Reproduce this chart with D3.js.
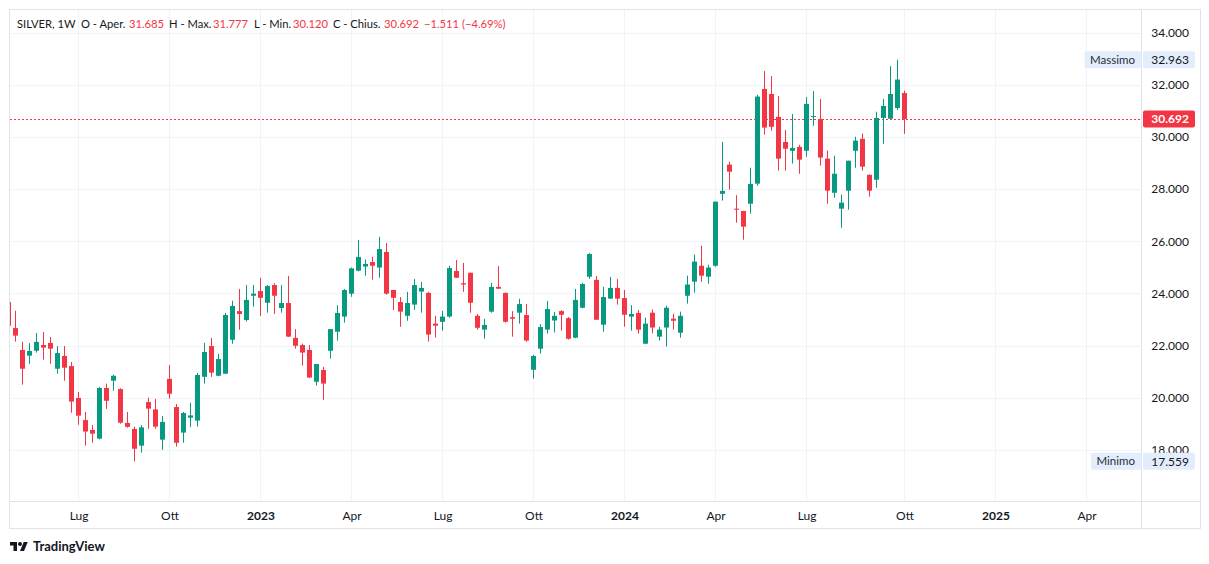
<!DOCTYPE html>
<html><head><meta charset="utf-8">
<script src="https://cdn.jsdelivr.net/npm/d3@7"></script>
<style>html,body{margin:0;padding:0;background:#fff;} svg{display:block;font-family:Lato,"Liberation Sans",sans-serif;}</style>
</head><body>
<svg id="c" width="1209" height="564"></svg>
<script>
// ---- data (weekly SILVER candles, first bar week of 2022-04-25) ----
const firstWeek = "2022-04-25";
const opens = [23.67,22.67,21.83,21.61,21.80,22.02,22.10,21.11,21.60,21.21,19.99,19.14,18.76,18.43,20.37,20.65,20.33,19.03,18.80,18.16,
19.83,19.55,18.39,20.72,19.64,18.66,19.23,19.12,20.80,21.98,20.84,20.92,22.22,23.32,22.98,23.91,24.09,23.64,24.32,23.44,
23.63,22.29,22.02,21.83,20.61,21.06,21.80,22.53,23.11,23.99,24.87,25.03,25.20,24.99,25.59,24.13,23.67,23.14,23.57,24.07,
24.02,22.84,22.91,23.11,24.86,24.39,24.79,23.14,22.61,23.30,24.25,24.02,23.09,23.26,23.17,21.07,21.88,22.61,22.96,23.32,
23.05,22.30,23.45,24.64,24.52,22.80,23.80,24.21,23.82,23.11,23.25,22.07,23.26,22.34,22.69,23.03,22.49,23.91,24.45,25.06,
24.64,25.06,27.82,28.94,27.25,27.16,27.44,28.21,31.84,31.65,30.77,29.81,29.47,29.62,29.47,30.77,30.69,29.17,27.86,27.25,
27.94,29.47,29.93,28.55,28.36,30.73,30.70,31.11,31.685];
const highs = [23.90,23.33,22.14,22.09,22.48,22.52,22.33,21.98,21.98,21.37,20.22,19.45,18.95,20.41,20.54,20.88,20.36,19.45,18.89,18.95,
20.00,19.95,19.30,21.25,19.76,19.45,19.80,20.95,22.10,22.29,21.68,23.25,23.72,24.17,24.32,24.32,24.59,24.32,24.39,24.32,
24.67,22.63,22.07,22.02,21.29,21.18,22.63,23.55,24.17,24.99,26.05,25.30,25.40,26.17,25.93,24.14,23.86,24.06,24.55,24.44,
24.06,23.14,23.33,25.06,25.28,25.17,24.80,23.21,23.02,24.40,25.05,24.03,23.32,23.79,23.59,21.64,22.82,23.71,23.29,23.36,
23.09,24.17,24.40,25.55,24.67,24.25,24.63,24.55,24.13,23.55,23.36,23.07,23.38,22.72,23.53,23.22,23.30,24.68,25.49,25.83,
25.10,27.52,29.81,29.05,27.77,27.17,28.82,31.62,32.53,32.34,31.57,30.27,30.88,29.70,31.53,31.76,31.46,29.48,29.28,27.79,
29.09,30.01,30.13,28.56,30.97,31.46,32.72,32.963,31.777];
const lows = [22.60,22.15,20.50,21.30,21.73,21.46,21.30,20.92,20.65,19.42,18.96,18.16,18.27,18.40,19.57,20.27,19.00,18.85,17.559,17.89,
18.81,18.81,18.00,19.96,18.12,18.27,18.87,18.89,20.54,20.80,20.82,20.90,22.07,22.61,22.92,23.49,23.14,23.26,23.21,23.26,
22.33,21.88,21.23,20.76,20.46,19.92,21.50,22.19,22.88,23.87,24.85,24.68,24.53,24.60,23.95,23.36,22.72,22.95,23.37,23.26,
22.15,22.30,22.57,23.07,24.59,24.06,23.26,22.61,22.26,23.26,24.17,22.88,22.34,22.84,22.15,20.73,21.69,22.46,22.50,22.57,
22.23,22.28,23.43,24.56,22.98,22.53,23.79,23.57,22.72,22.57,22.46,22.05,22.46,22.19,21.96,22.61,22.30,23.61,24.03,24.45,
24.37,25.02,27.56,27.98,26.71,26.06,27.06,28.13,30.09,30.24,28.71,28.71,28.98,28.59,29.24,30.43,28.90,27.44,27.67,26.52,
27.21,28.82,28.71,27.71,28.05,29.74,30.69,31.03,30.120];
const closes = [22.76,22.38,21.11,21.79,22.14,21.92,21.88,21.71,21.15,19.85,19.31,18.70,18.62,20.37,19.88,20.84,19.04,18.88,18.04,18.86,
19.58,18.89,19.07,20.15,18.27,19.41,19.32,20.87,21.75,20.96,21.48,23.17,23.52,23.21,23.75,23.99,23.83,24.28,23.91,23.63,
22.34,21.99,21.73,20.77,21.29,20.54,22.63,23.25,24.13,24.96,25.40,25.13,25.06,25.70,23.99,23.83,23.30,23.63,24.32,24.21,
22.42,22.76,23.11,24.97,24.60,24.34,23.64,22.68,22.79,24.25,24.18,22.91,23.03,23.59,22.19,21.60,22.71,23.40,23.14,23.18,
22.26,23.75,24.36,25.51,22.99,23.86,24.21,23.80,23.18,23.21,22.61,22.84,22.69,22.61,23.45,22.95,23.14,24.34,25.22,24.68,
24.99,27.52,27.93,28.67,27.21,26.56,28.20,31.55,30.36,30.39,29.17,29.55,29.58,29.13,31.27,30.80,29.21,27.94,28.59,27.48,
29.09,29.86,28.86,27.94,30.73,31.19,31.65,32.203,30.692];
const priceTicks = [18,20,22,24,26,28,30,32,34];
const timeTickDates = ["2022-07-04","2022-10-03","2023-01-02","2023-04-03","2023-07-03","2023-10-02","2024-01-01","2024-04-01","2024-07-01","2024-10-07","2025-01-06","2025-04-07"];
const timeTickLabels = ["Lug","Ott","2023","Apr","Lug","Ott","2024","Apr","Lug","Ott","2025","Apr"];
const lastPrice = 30.692, maxPrice = 32.963, minPrice = 17.559;
const headerLabels = ["SILVER, 1W","O - Aper.","H - Max.","L - Min.","C - Chius."];
const headerValues = ["31.685","31.777","30.120","30.692","\u22121.511 (\u22124.69%)"];

// ---- layout ----
const L = 10, R = 1141, T = 10, B = 501;
const RED = "#f23645", GREEN = "#089981", TXT = "#131722", GRID = "#f0f3fa", BORDER = "#e0e3eb";
const DAY = 864e5;
const parse = d3.utcParse("%Y-%m-%d");
const start = parse(firstWeek);
const candles = opens.map((o, i) => ({date: d3.utcDay.offset(start, 7 * i), o, h: highs[i], l: lows[i], c: closes[i]}));

const x = d3.scaleUtc()
  .domain([new Date(start.getTime() - 8.3 * DAY), new Date(start.getTime() + (R - 8.3) * DAY)])
  .range([0, R]);
const y = d3.scaleLinear().domain([16.036, 34.871]).range([B, T]);

const svg = d3.select("#c");
svg.append("rect").attr("x", 9.5).attr("y", 9.5).attr("width", 1191).attr("height", 519)
  .attr("fill", "#fff").attr("stroke", BORDER);

const tickDates = timeTickDates.map(parse);
// grid
const grid = svg.append("g");
grid.selectAll("line.v").data(tickDates).join("line")
  .attr("x1", d => Math.floor(x(d)) + 0.5).attr("x2", d => Math.floor(x(d)) + 0.5)
  .attr("y1", T).attr("y2", B).attr("stroke", GRID);
grid.selectAll("line.h").data(priceTicks).join("line")
  .attr("x1", L).attr("x2", R)
  .attr("y1", d => Math.round(y(d)) + 0.5).attr("y2", d => Math.round(y(d)) + 0.5).attr("stroke", GRID);

svg.append("clipPath").attr("id", "plot").append("rect").attr("x", L).attr("y", T).attr("width", R - L).attr("height", B - T);
const plot = svg.append("g").attr("clip-path", "url(#plot)");

// last price dotted line
plot.append("line").attr("x1", L).attr("x2", R)
  .attr("y1", Math.round(y(lastPrice)) + 0.5).attr("y2", Math.round(y(lastPrice)) + 0.5)
  .attr("stroke", RED).attr("stroke-width", 1).attr("stroke-dasharray", "2,2");

const cg = plot.selectAll("g.c").data(candles).join("g");
cg.append("rect")
  .attr("x", d => Math.floor(x(d.date)))
  .attr("y", d => y(d.h)).attr("width", 1)
  .attr("height", d => Math.max(1, y(d.l) - y(d.h)))
  .attr("fill", d => d.c >= d.o ? GREEN : RED);
cg.append("rect")
  .attr("x", d => Math.floor(x(d.date)) - 2)
  .attr("y", d => y(Math.max(d.o, d.c))).attr("width", 5)
  .attr("height", d => Math.max(1, Math.abs(y(d.o) - y(d.c))))
  .attr("fill", d => d.c >= d.o ? GREEN : RED);

// axis separators
svg.append("line").attr("x1", R + 0.5).attr("x2", R + 0.5).attr("y1", T).attr("y2", 528).attr("stroke", BORDER);
svg.append("line").attr("x1", L).attr("x2", 1200).attr("y1", B + 0.5).attr("y2", B + 0.5).attr("stroke", BORDER);

// price axis
const ya = svg.append("g").attr("transform", `translate(${R},0)`)
  .call(d3.axisRight(y).tickValues(priceTicks).tickFormat(d3.format(".3f")).tickSize(0).tickPadding(0));
ya.select(".domain").remove();
ya.selectAll("text").attr("x", 48).attr("text-anchor", "end").attr("font-size", 12)
  .attr("font-family", "Lato, sans-serif").attr("fill", TXT);

// time axis
const xa = svg.append("g").attr("transform", `translate(0,${B})`)
  .call(d3.axisBottom(x).tickValues(tickDates).tickFormat((d, i) => timeTickLabels[i]).tickSize(0).tickPadding(10));
xa.select(".domain").remove();
xa.selectAll(".tick").attr("transform", d => `translate(${Math.floor(x(d)) + 1},0)`);
xa.selectAll("text").attr("font-size", 12).attr("font-family", "Lato, sans-serif").attr("fill", TXT)
  .attr("font-weight", (d, i) => /^\d{4}$/.test(timeTickLabels[i]) ? "bold" : "normal");

// price labels
function priceBox(val, fill, color, bold) {
  const cy = y(val);
  svg.append("rect").attr("x", 1143).attr("y", cy - 8.5).attr("width", 52).attr("height", 17).attr("rx", 2).attr("fill", fill);
  svg.append("text").attr("x", 1189).attr("y", cy).attr("dy", "0.36em").attr("text-anchor", "end")
    .attr("font-size", 12).attr("font-weight", bold ? "bold" : "normal").attr("fill", color).text(d3.format(".3f")(val));
}
function nameBox(name, val) {
  const cy = y(val);
  const r = svg.append("rect").attr("y", cy - 8.5).attr("height", 17).attr("rx", 2).attr("fill", "#e3edfb");
  const t = svg.append("text").attr("y", cy).attr("dy", "0.36em").attr("text-anchor", "end")
    .attr("x", 1135).attr("font-size", 11.5).attr("fill", "#2a2e39").text(name);
  const w = t.node().getComputedTextLength();
  r.attr("x", 1141.5 - w - 12).attr("width", w + 12);
}
nameBox("Massimo", maxPrice); priceBox(maxPrice, "#e3edfb", TXT, false);
nameBox("Minimo", minPrice); priceBox(minPrice, "#e3edfb", TXT, false);
priceBox(lastPrice, RED, "#fff", true);

// header
const hx = [17, 81, 169, 254, 333], vx = [129, 213, 293, 384, 424];
const hg = svg.append("g").attr("font-size", 11.2);
headerLabels.forEach((s, i) => hg.append("text").attr("x", hx[i]).attr("y", 28).attr("fill", TXT).text(s));
headerValues.forEach((s, i) => hg.append("text").attr("x", vx[i]).attr("y", 28).attr("fill", RED).text(s));

// logo
const lg = svg.append("g").attr("transform", "translate(10,540) scale(0.5)").attr("fill", TXT);
lg.append("path").attr("d", "M14 22H7V11H0V4h14v18zM28 22h-8l7.5-18h8L28 22z");
lg.append("circle").attr("cx", 20).attr("cy", 8).attr("r", 4);
svg.append("text").attr("x", 33).attr("y", 551).attr("font-size", 13).attr("font-weight", "bold")
  .attr("fill", TXT).text("TradingView");
</script>
</body></html>
